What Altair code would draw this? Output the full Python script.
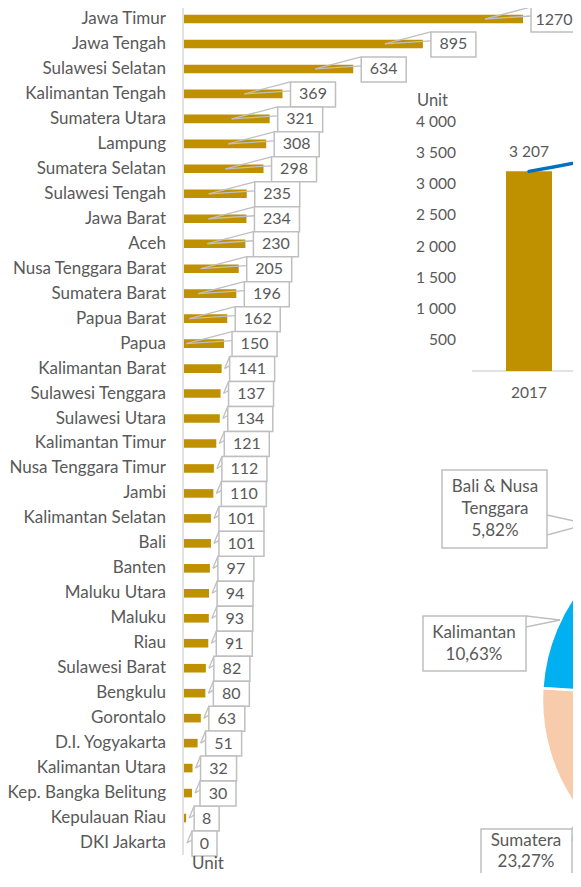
import math
import altair as alt
import pandas as pd

# ---------------- data ----------------
provinces = ["Jawa Timur", "Jawa Tengah", "Sulawesi Selatan", "Kalimantan Tengah",
             "Sumatera Utara", "Lampung", "Sumatera Selatan", "Sulawesi Tengah",
             "Jawa Barat", "Aceh", "Nusa Tenggara Barat", "Sumatera Barat",
             "Papua Barat", "Papua", "Kalimantan Barat", "Sulawesi Tenggara",
             "Sulawesi Utara", "Kalimantan Timur", "Nusa Tenggara Timur", "Jambi",
             "Kalimantan Selatan", "Bali", "Banten", "Maluku Utara", "Maluku", "Riau",
             "Sulawesi Barat", "Bengkulu", "Gorontalo", "D.I. Yogyakarta",
             "Kalimantan Utara", "Kep. Bangka Belitung", "Kepulauan Riau", "DKI Jakarta"]
units = [1270, 895, 634, 369, 321, 308, 298, 235, 234, 230, 205, 196, 162, 150, 141,
         137, 134, 121, 112, 110, 101, 101, 97, 94, 93, 91, 82, 80, 63, 51, 32, 30, 8, 0]

bar_years = [2017]
bar_totals = [3207]
trend_years = [2017, 2018, 2019]
trend_values = [3207, 3560, 4150]

inset_ticks = [500, 1000, 1500, 2000, 2500, 3000, 3500, 4000]
inset_tick_labels = ["500", "1 000", "1 500", "2 000", "2 500", "3 000", "3 500", "4 000"]

regions = ["Jawa", "Sulawesi", "Sumatera", "Kalimantan", "Bali & Nusa Tenggara", "Maluku & Papua"]
region_share = [35.45, 17.88, 23.27, 10.63, 5.82, 6.95]
region_colors = ["#BF9000", "#A9D18E", "#F8CBAD", "#00B0F0", "#FFD966", "#8FAADC"]

# ---------------- style / layout ----------------
FONT = "Lato"
TXT = "#595959"
GOLD = "#BF9000"
GREY = "#BFBFBF"
AXIS = "#D9D9D9"
PW, PH = 389, 850
PAD = {"left": 176, "top": 0, "right": 0, "bottom": 15}

df = pd.DataFrame({"province": provinces, "value": units})
df["idx"] = range(len(df))
df["digits"] = df["value"].astype(str).str.len()
df["zero"] = 0

xs_main = alt.Scale(domain=[0, 1270], range=[0, 339], nice=False, zero=False, padding=0)
ys_main = alt.Scale(domain=[0, len(provinces) - 1], range=[11, 835], nice=False, zero=False, padding=0)


def XM(f="value"):
    return alt.X(f"{f}:Q", scale=xs_main, axis=None)


def YM(f="idx"):
    return alt.Y(f"{f}:Q", scale=ys_main, axis=None)


base = alt.Chart(df)
layers = []

# axis line
layers.append(alt.Chart(pd.DataFrame({"a": [0]})).mark_rule(color=AXIS, strokeWidth=1.5).encode(
    x=alt.value(-1), y=alt.value(-3), y2=alt.value(847)))

# bars
layers.append(base.mark_rect(color=GOLD, yOffset=-4.3, y2Offset=4.3).encode(
    x=XM("zero"), x2="value:Q", y=YM(), y2="idx:Q"))

# category labels
layers.append(base.mark_text(align="right", baseline="middle", font=FONT, fontSize=17, color=TXT).encode(
    x=alt.value(-18), y=YM(), text="province:N"))

# leader wedges
for cond, tip in [("datum.value >= 150", -38), ("datum.value < 150", 3)]:
    for y2o in [-12, -3]:
        layers.append(base.transform_filter(cond).mark_rule(
            color=GREY, strokeWidth=1.3, xOffset=tip, x2Offset=8, y2Offset=y2o).encode(
            x=XM(), x2="value:Q", y=YM(), y2="idx:Q"))

# callout boxes + values
box_w = {1: 25, 2: 36, 3: 45, 4: 56}
text_dx = {1: 8 + 12.5, 2: 8 + 18, 3: 8 + 22.5, 4: 8 + 23}
for d, w in box_w.items():
    layers.append(base.transform_filter(f"datum.digits == {d}").mark_rect(
        fill="white", stroke=GREY, strokeWidth=1.5, xOffset=8, x2Offset=8 + w,
        yOffset=-12, y2Offset=13).encode(x=XM(), x2="value:Q", y=YM(), y2="idx:Q"))
for d, w in box_w.items():
    layers.append(base.transform_filter(f"datum.digits == {d}").mark_text(
        align="center", baseline="middle", font=FONT, fontSize=16, color=TXT,
        xOffset=text_dx[d], yOffset=0.5).encode(x=XM(), y=YM(), text="value:Q"))

# "Unit" under the bar chart
layers.append(alt.Chart(pd.DataFrame({"t": ["Unit"]})).mark_text(
    align="center", baseline="middle", font=FONT, fontSize=17, color=TXT).encode(
    x=alt.value(24), y=alt.value(856), text="t:N"))

# ---------------- inset column chart ----------------
xs_in = alt.Scale(domain=[2017, 2018], range=[345, 450], nice=False, zero=False, padding=0)
ys_in = alt.Scale(domain=[0, 4000], range=[363, 114], nice=False, zero=False, padding=0)

bar_df = pd.DataFrame({"year": bar_years, "total": bar_totals})
bar_df["label"] = bar_df["total"].map(lambda v: f"{v:,}".replace(",", " "))
bar_df["base"] = 0
trend_df = pd.DataFrame({"year": trend_years, "v": trend_values})
tick_df = pd.DataFrame({"tick": inset_ticks, "label": inset_tick_labels})


def XI(f):
    return alt.X(f"{f}:Q", scale=xs_in, axis=None)


def YI(f):
    return alt.Y(f"{f}:Q", scale=ys_in, axis=None)


layers.append(alt.Chart(tick_df).mark_text(
    align="right", baseline="middle", font=FONT, fontSize=15.5, color=TXT).encode(
    x=alt.value(272), y=YI("tick"), text="label:N"))
layers.append(alt.Chart(pd.DataFrame({"t": ["Unit"]})).mark_text(
    align="left", baseline="middle", font=FONT, fontSize=16.5, color=TXT).encode(
    x=alt.value(233), y=alt.value(93), text="t:N"))
layers.append(alt.Chart(pd.DataFrame({"z": [0]})).mark_rule(color=AXIS, strokeWidth=1.3).encode(
    x=alt.value(288), x2=alt.value(400), y=YI("z")))
layers.append(alt.Chart(bar_df).mark_rect(color=GOLD, xOffset=-23, x2Offset=23).encode(
    x=XI("year"), x2="year:Q", y=YI("total"), y2="base:Q"))
layers.append(alt.Chart(trend_df).mark_line(
    color="#0070C0", strokeWidth=3.5, interpolate="monotone", clip=True, strokeCap="round").encode(
    x=XI("year"), y=YI("v")))
layers.append(alt.Chart(bar_df).mark_text(
    align="center", baseline="middle", font=FONT, fontSize=15.5, color=TXT, dy=-19).encode(
    x=XI("year"), y=YI("total"), text="label:N"))
layers.append(alt.Chart(bar_df).mark_text(
    align="center", baseline="middle", font=FONT, fontSize=15.5, color=TXT, dy=22).encode(
    x=XI("year"), y=YI("base"), text="year:N"))

# ---------------- pie ----------------
pie_df = pd.DataFrame({"region": regions, "share": region_share})
pie_df["ord"] = range(len(pie_df))
rot = -2 * math.pi / 180
layers.append(alt.Chart(pie_df).mark_arc(radius=183, stroke="white", strokeWidth=2.5, clip=True).encode(
    theta=alt.Theta("share:Q", stack=True, scale=alt.Scale(range=[rot, 2 * math.pi + rot])),
    color=alt.Color("region:N", scale=alt.Scale(domain=regions, range=region_colors), legend=None),
    order=alt.Order("ord:Q"),
    x=alt.value(541), y=alt.value(692)))

# pie callouts
callouts = pd.DataFrame({
    "text": ["Bali & Nusa\nTenggara\n5,82%", "Kalimantan\n10,63%", "Sumatera\n23,27%"],
})
boxes = [(258, 363, 462, 540), (239, 342, 608, 663), (297, 388, 821, 900)]
texts = [(311, 479), (290, 625), (342, 833)]
wedges = [((363, 507), (363, 527), (404, 516)),
          ((342, 608), (342, 619), (376, 612)),
          ((388, 821), (388, 833), (396, 806))]
for i in range(3):
    x0, x1, y0, y1 = boxes[i]
    one = alt.Chart(callouts.iloc[[i]])
    for (wx, wy) in wedges[i][:2]:
        tx, ty = wedges[i][2]
        layers.append(one.mark_rule(color=GREY, strokeWidth=1.5).encode(
            x=alt.value(wx), y=alt.value(wy), x2=alt.value(tx), y2=alt.value(ty)))
    layers.append(one.mark_rect(fill="white", stroke=GREY, strokeWidth=1.5).encode(
        x=alt.value(x0), x2=alt.value(x1), y=alt.value(y0), y2=alt.value(y1)))
    layers.append(one.mark_text(align="center", baseline="middle", lineBreak="\n",
                                lineHeight=21 if i == 2 else 22,
                                font=FONT, fontSize=17, color=TXT).encode(
        x=alt.value(texts[i][0]), y=alt.value(texts[i][1]), text="text:N"))

chart = alt.layer(*layers).resolve_scale(x="independent", y="independent").properties(
    width=PW, height=PH, padding=PAD, autosize=alt.AutoSizeParams(type="none"),
    background="white").configure_view(strokeWidth=0)

chart.save("out.html", embed_options={"renderer": "svg", "actions": False})
